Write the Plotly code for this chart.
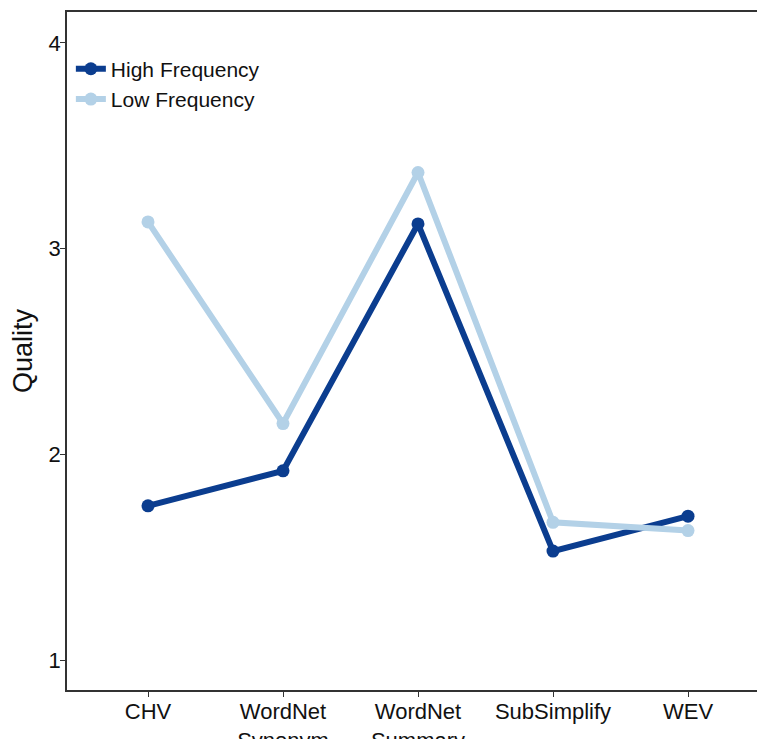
import plotly.graph_objects as go

categories = ["CHV", "WordNet<br>Synonym", "WordNet<br>Summary", "SubSimplify", "WEV"]
high_freq = [1.75, 1.92, 3.12, 1.53, 1.70]
low_freq = [3.13, 2.15, 3.37, 1.67, 1.63]
y_ticks = [1, 2, 3, 4]

xs = list(range(len(categories)))

fig = go.Figure()
fig.add_trace(go.Scatter(x=xs, y=high_freq, mode="lines+markers", name="High Frequency",
                         line=dict(color="#0b3d8f", width=6), marker=dict(size=13, color="#0b3d8f")))
fig.add_trace(go.Scatter(x=xs, y=low_freq, mode="lines+markers", name="Low Frequency",
                         line=dict(color="#b3d1e7", width=6), marker=dict(size=13, color="#b3d1e7")))

fig.update_layout(
    width=757, height=739,
    margin=dict(l=67, r=0, t=12, b=49),
    paper_bgcolor="white", plot_bgcolor="white",
    font=dict(family="Liberation Sans, Arial, sans-serif", size=21, color="#111111"),
    showlegend=True,
    legend=dict(x=0.0056, y=0.946, xanchor="left", yanchor="top", bgcolor="rgba(0,0,0,0)",
                font=dict(size=21, color="#111111"), itemwidth=30, tracegroupgap=0),
    xaxis=dict(range=[-0.6, 4.511], tickmode="array", tickvals=xs, ticktext=categories,
               showgrid=False, zeroline=False, showline=True, linecolor="#333333", linewidth=1.5,
               mirror=True, ticks="outside", ticklen=5, tickcolor="#333333", automargin=False,
               ticklabelstandoff=-4,
               tickfont=dict(size=22, color="#111111")),
    yaxis=dict(range=[0.855, 4.15], tickvals=y_ticks, showgrid=False, zeroline=False,
               showline=True, linecolor="#333333", linewidth=1.5, ticks="outside", ticklen=5,
               tickcolor="#333333", tickfont=dict(size=22, color="#111111"), automargin=False,
               ticklabelstandoff=-5,
               title=dict(text="Quality", font=dict(size=27, color="#111111"), standoff=8)),
)

fig.write_html("out.html", config={"displayModeBar": False},
               post_script="document.body.style.margin='0';")
